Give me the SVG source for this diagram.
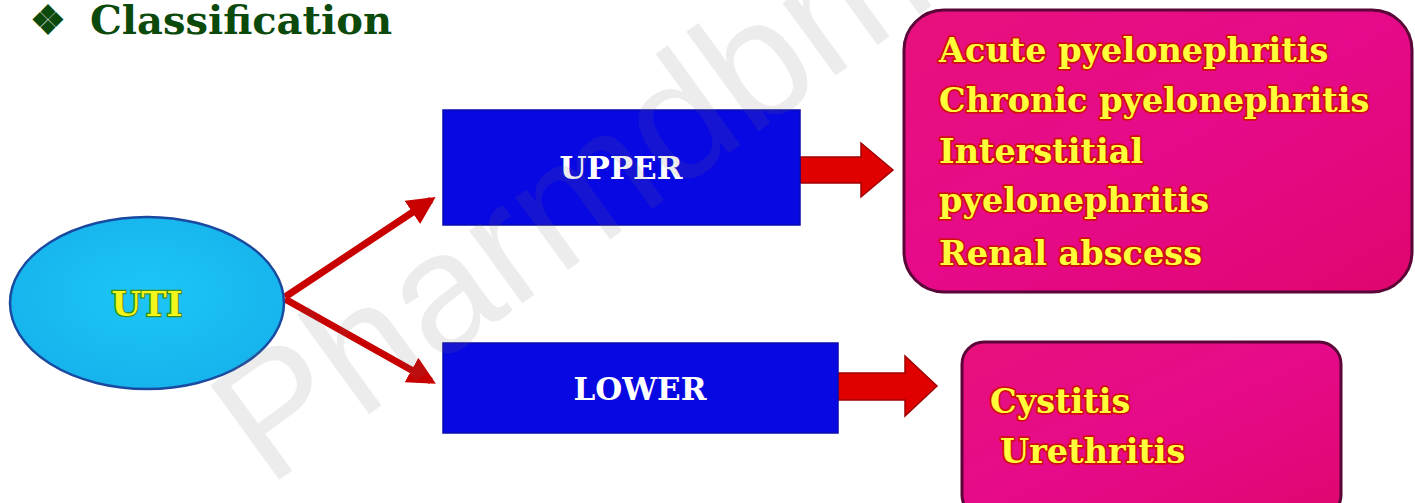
<svg xmlns="http://www.w3.org/2000/svg" width="1415" height="503" viewBox="0 0 1415 503">
<defs>
<style>
.title{font-family:"DejaVu Serif","Liberation Serif",serif;font-weight:bold;font-size:40px;fill:#0b4a0b;}
.uti{font-family:"DejaVu Serif","Liberation Serif",serif;font-weight:bold;font-size:34px;fill:#f4f51a;stroke:#3f8f1a;stroke-width:2.5;paint-order:stroke;}
.box{fill:#0808e2;stroke:#0a0ab0;stroke-width:1.5;}
.boxtxt{font-family:"DejaVu Serif","Liberation Serif",serif;font-weight:bold;font-size:31px;fill:#ffffff;text-anchor:middle;}
.pink{fill:url(#pk);stroke:#5a0638;stroke-width:3;}
.item{font-family:"DejaVu Serif","Liberation Serif",serif;font-weight:bold;font-size:33.5px;fill:#ffff3a;stroke:#d01010;stroke-width:3.5;paint-order:stroke;stroke-linejoin:round;}
.conn{stroke:#c80000;stroke-width:7;fill:none;}
.block{fill:#e00000;stroke:#a00000;stroke-width:1.5;}
.wm{font-family:"Liberation Sans",sans-serif;font-size:170px;fill:#707070;opacity:0.13;}
</style>
<radialGradient id="el" cx="0.5" cy="0.45" r="0.6">
<stop offset="0" stop-color="#1cc6f6"/>
<stop offset="1" stop-color="#16b2ec"/>
</radialGradient>
<linearGradient id="pk" x1="0" y1="0" x2="1" y2="1">
<stop offset="0" stop-color="#e8107c"/>
<stop offset="0.5" stop-color="#e60a8a"/>
<stop offset="1" stop-color="#e0066e"/>
</linearGradient>
<marker id="ah" viewBox="0 0 10 10" refX="8" refY="5" markerWidth="4" markerHeight="4" orient="auto" markerUnits="strokeWidth">
<path d="M0,0 L10,5 L0,10 z" fill="#c80000"/>
</marker>
</defs>
<rect width="1415" height="503" fill="#ffffff"/>
<g id="title">
<text class="title" x="30" y="34">❖ <tspan x="90">Classification</tspan></text>
</g>
<g id="connectors">
<line class="conn" x1="285" y1="297" x2="431" y2="200" marker-end="url(#ah)"/>
<line class="conn" x1="285" y1="299" x2="431" y2="381" marker-end="url(#ah)"/>
<path class="block" d="M800,157 H861 V143 L893,170 L861,197 V183 H800 Z"/>
<path class="block" d="M833,373 H905 V356 L937,386 L905,416 V400 H833 Z"/>
</g>
<g id="uti">
<ellipse cx="147" cy="303" rx="137" ry="86" fill="url(#el)" stroke="#1a4aa0" stroke-width="2.5"/>
<text class="uti" x="147" y="316" text-anchor="middle">UTI</text>
</g>
<g id="upper">
<rect class="box" x="443" y="110" width="357" height="115"/>
<text class="boxtxt" x="621" y="179">UPPER</text>
</g>
<g id="lower">
<rect class="box" x="443" y="343" width="395" height="90"/>
<text class="boxtxt" x="640" y="400">LOWER</text>
</g>
<g id="upper-types">
<rect class="pink" x="904" y="10" width="508" height="282" rx="40"/>
<text class="item" x="939" y="62">Acute pyelonephritis</text>
<text class="item" x="939" y="112">Chronic pyelonephritis</text>
<text class="item" x="939" y="163">Interstitial</text>
<text class="item" x="939" y="212">pyelonephritis</text>
<text class="item" x="939" y="265">Renal abscess</text>
</g>
<g id="lower-types">
<rect class="pink" x="962" y="342" width="379" height="175" rx="22"/>
<text class="item" x="990" y="413">Cystitis</text>
<text class="item" x="1000" y="463">Urethritis</text>
</g>
<text class="wm" transform="translate(268,488) rotate(-36)">Pharmdbm</text>
</svg>
